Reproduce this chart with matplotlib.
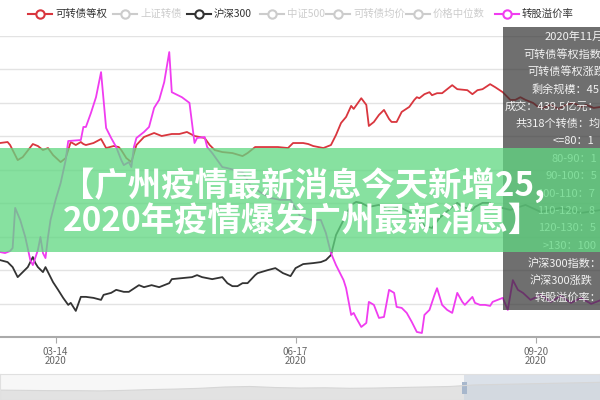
import matplotlib
matplotlib.use("Agg")
import matplotlib.pyplot as plt
import matplotlib.dates as mdates
from matplotlib.patches import Rectangle
from matplotlib.lines import Line2D
import pandas as pd

plt.rcParams['font.family'] = ['Noto Sans CJK SC', 'DejaVu Sans']

start = pd.Timestamp('2020-02-21')

# 可转债等权 (red), days since start / value in grid units
cb_days = [0, 3, 4, 7, 9, 13, 15, 17, 19, 21, 24, 26, 28, 30, 32, 33, 34, 37, 40, 42,
           45, 47, 48, 50, 52, 54, 57, 61, 64, 68, 71, 74, 77, 81, 83, 85, 88, 92, 96, 98,
           101, 106, 110, 114, 116, 120, 122, 124, 128, 131, 133, 135, 137, 139, 140, 143, 145, 146, 148, 150,
           152, 154, 155, 157, 159, 162, 164, 165, 166, 168, 170, 171, 173, 175, 177, 179, 181, 185, 187, 189,
           191, 194, 196, 199, 202, 204, 206, 208, 211, 213, 215, 218, 221, 224, 227, 230, 232, 235, 238]
cb_vals = [5.80, 5.83, 5.74, 5.29, 5.38, 5.77, 5.71, 5.59, 5.65, 5.44, 5.23, 5.35, 5.83, 5.74, 5.83, 5.77, 5.74, 5.80, 5.92, 5.65,
           5.71, 5.68, 5.59, 5.35, 5.23, 5.74, 5.98, 6.10, 6.01, 6.07, 6.07, 6.13, 6.01, 5.95, 5.74, 5.59, 5.53, 5.50, 5.41, 5.50,
           5.68, 5.68, 5.68, 5.65, 5.80, 5.80, 5.77, 5.71, 5.65, 5.74, 6.04, 6.40, 6.58, 6.91, 6.82, 7.14, 6.94, 6.31, 6.43, 6.64,
           6.79, 6.52, 6.43, 6.43, 6.73, 6.88, 7.09, 7.17, 7.14, 7.26, 7.32, 7.23, 7.29, 7.29, 7.41, 7.53, 7.41, 7.38, 7.26, 7.38,
           7.41, 7.56, 7.47, 7.32, 7.09, 7.09, 7.17, 7.09, 7.00, 6.88, 6.85, 6.94, 6.82, 6.94, 7.00, 6.88, 6.94, 6.85, 6.88]

# 沪深300 (black)
hs_days = [0, 3, 5, 7, 9, 11, 13, 14, 15, 17, 18, 21, 23, 25, 27, 28, 29, 30, 32, 34,
           37, 40, 41, 44, 46, 49, 51, 55, 57, 60, 63, 67, 68, 72, 76, 78, 80, 84, 88, 90,
           92, 94, 96, 98, 101, 102, 106, 109, 112, 115, 117, 120, 124, 127, 129, 131, 133, 136, 139, 141,
           143, 146, 150, 154, 158, 162, 166, 168, 171, 174, 179, 181, 183, 187, 188, 191, 194, 195, 197, 202,
           208, 214, 222, 230, 238]
hs_vals = [2.30, 2.24, 2.09, 1.79, 1.94, 2.09, 2.39, 2.21, 2.09, 1.94, 2.09, 1.64, 1.41, 1.17, 0.96, 1.02, 0.90, 0.78, 1.20, 1.20,
           1.17, 1.11, 1.26, 1.32, 1.41, 1.35, 1.35, 1.55, 1.49, 1.55, 1.49, 1.61, 1.73, 1.76, 1.79, 1.85, 1.79, 1.73, 1.79, 1.61,
           1.52, 1.52, 1.61, 1.61, 1.85, 1.91, 2.00, 2.06, 1.91, 1.82, 2.06, 2.18, 2.21, 2.24, 2.30, 2.45, 3.05, 3.50, 3.95, 4.04,
           4.01, 3.89, 3.95, 3.80, 3.89, 3.74, 3.56, 3.32, 3.26, 3.56, 3.89, 4.01, 3.89, 3.80, 3.89, 4.01, 4.01, 3.86, 3.89, 3.80,
           3.95, 3.74, 3.86, 3.71, 3.80]

# 转股溢价率 (magenta)
pr_days = [0, 2, 4, 5, 6, 8, 10, 12, 13, 15, 16, 17, 18, 19, 20, 22, 24, 26, 27, 32,
           33, 34, 36, 38, 40, 42, 44, 46, 48, 49, 51, 52, 53, 54, 57, 59, 61, 63, 65, 67,
           68, 72, 75, 77, 78, 81, 82, 84, 86, 88, 90, 93, 96, 99, 103, 107, 111, 115, 119, 123,
           127, 129, 131, 133, 136, 137, 139, 140, 141, 143, 145, 146, 148, 150, 152, 154, 156, 157, 159, 161,
           163, 165, 167, 168, 170, 172, 173, 175, 177, 179, 181, 183, 184, 187, 188, 190, 192, 194, 195, 197,
           199, 201, 203, 205, 207, 210, 214, 218, 222, 226, 230, 234, 238]
pr_vals = [2.54, 2.51, 2.57, 2.66, 3.86, 3.50, 2.99, 2.30, 2.15, 2.60, 2.99, 2.51, 2.36, 2.99, 3.50, 4.10, 4.60, 5.29, 5.86, 5.89,
           6.28, 6.28, 6.70, 7.17, 7.92, 6.25, 5.95, 5.68, 5.29, 5.14, 5.23, 5.08, 5.68, 5.95, 6.13, 6.28, 6.85, 7.09, 7.62, 8.52,
           7.32, 7.17, 7.00, 5.80, 5.95, 5.98, 5.68, 5.50, 5.29, 5.08, 5.05, 4.99, 4.93, 4.54, 4.33, 4.16, 4.10, 4.10, 3.59, 3.50,
           3.50, 3.11, 2.51, 2.15, 1.70, 1.46, 0.66, 0.72, 0.57, 0.30, 0.42, 1.05, 0.96, 0.57, 0.60, 1.41, 1.32, 0.90, 0.87, 0.72,
           0.45, 0.15, 0.12, 0.66, 0.81, 1.26, 1.46, 0.96, 0.81, 0.72, 1.32, 1.05, 0.96, 1.20, 1.02, 0.96, 0.96, 0.93, 1.05, 1.11,
           1.17, 0.81, 1.70, 1.41, 1.32, 1.11, 1.26, 1.05, 1.23, 1.02, 1.17, 0.99, 1.11]

tick_dates = ['2020-03-14', '2020-06-17', '2020-09-20']

legend_names = ['可转债等权', '上证转债', '沪深300', '中证500', '可转债均价', '价格中位数', '转股溢价率']
legend_colors = ['#d9363e', '#cccccc', '#333333', '#cccccc', '#cccccc', '#cccccc', '#f03cf0']
legend_on = [True, False, True, False, False, False, True]

tooltip_lines = ['2020年11月', '可转债等权指数', '可转债等权涨跌', '剩余规模：45', '成交：439.5亿元：',
                 '共318个转债：均', '<=80：1', '80-90：1', '90-100：5', '100-110：7', '110-120：8',
                 '120-130：5', '>130：100', '沪深300指数：', '沪深300涨跌', '转股溢价率：']

banner_text = '【广州疫情最新消息今天新增25,\n2020年疫情爆发广州最新消息】'

# slider overview curve
overview_vals = [0.38, 0.37, 0.36, 0.36, 0.35, 0.37, 0.40, 0.42, 0.45, 0.50, 0.52, 0.48, 0.46,
                 0.47, 0.45, 0.46, 0.48, 0.50, 0.52, 0.58, 0.60, 0.62, 0.64, 0.66, 0.68]

W, H = 600, 400
fig = plt.figure(figsize=(6, 4), dpi=100)

ax = fig.add_axes([0, 63 / H, 1, 301 / H])
to_dates = lambda d: [start + pd.Timedelta(days=x) for x in d]
ax.plot(to_dates(cb_days), cb_vals, color='#d9363e', lw=1.3, zorder=3)
ax.plot(to_dates(hs_days), hs_vals, color='#333333', lw=1.3, zorder=3)
ax.plot(to_dates(pr_days), pr_vals, color='#f03cf0', lw=1.3, zorder=3)

ax.set_xlim(start, start + pd.Timedelta(days=237.5))
ax.set_ylim(0, 9)
ax.set_yticks(range(1, 10))
ax.yaxis.set_tick_params(length=0, labelleft=False)
ax.grid(axis='y', color='#e3e3e3', lw=1)
ax.set_axisbelow(True)
for s in ['top', 'right', 'left']:
    ax.spines[s].set_visible(False)
ax.spines['bottom'].set_color('#aaaaaa')
ax.spines['bottom'].set_linewidth(1.5)
ax.set_xticks(pd.to_datetime(tick_dates))
ax.xaxis.set_major_formatter(mdates.DateFormatter('%m-%d\n%Y'))
ax.tick_params(axis='x', colors='#aaaaaa', length=4, labelcolor='#666666', labelsize=7, pad=3)
for lab in ax.get_xticklabels():
    lab.set_linespacing(0.95)

# legend
marker_x = [40, 125, 199, 272, 338, 418, 507]
for name, col, on, mx in zip(legend_names, legend_colors, legend_on, marker_x):
    y = (H - 14) / H
    fig.add_artist(Line2D([(mx - 12) / W, (mx + 12) / W], [y, y], color=col, lw=1.5,
                          transform=fig.transFigure))
    fig.add_artist(Line2D([mx / W], [y], marker='o', ms=6, mfc='white', mec=col, mew=1.5,
                          transform=fig.transFigure))
    fig.text((mx + 15) / W, y, name, fontsize=7.5, color='#333333' if on else '#cccccc',
             va='center', ha='left')

# tooltip (cut off at the right edge, as in the screenshot)
fig.add_artist(Rectangle((503 / W, (H - 310) / H), 110 / W, 283 / H, transform=fig.transFigure,
                         facecolor='#323232', alpha=0.7, edgecolor='none', zorder=5))
tip_x = [545, 523, 527, 532, 505, 515, 553, 552, 545, 537, 537, 538, 543, 528, 530, 535]
for i, (txt, tx) in enumerate(zip(tooltip_lines, tip_x)):
    fig.text(tx / W, (H - 37 - i * 17.4) / H, txt, fontsize=8, color='#f2f2f2',
             va='center', ha='left', zorder=6)

# banner
fig.add_artist(Rectangle((0, (H - 252) / H), 1, 104 / H, transform=fig.transFigure,
                         facecolor='#61d882', alpha=0.76, edgecolor='none', zorder=7))
fig.text(0.505, (H - 203) / H, banner_text, fontsize=24, fontweight='bold', color='white',
         ha='center', va='center', linespacing=1.08, zorder=8)

# data zoom slider
ax2 = fig.add_axes([0, 0, 1, 26 / H])
n = len(overview_vals)
ox = [i / (n - 1) for i in range(n)]
ax2.fill_between(ox, 0, overview_vals, color='#e2e2e2', lw=0)
ax2.plot(ox, overview_vals, color='#d6d6d6', lw=0.8)
ax2.axvspan(464 / W, 1, color='#c9d3e0', alpha=0.6, lw=0)
ax2.add_patch(Rectangle((462 / W, 0.25), 5 / W, 0.45, facecolor='#a7b7cc', edgecolor='none'))
ax2.set_xlim(0, 1)
ax2.set_ylim(0, 1)
ax2.set_facecolor('#f7f7f7')
ax2.set_xticks([])
ax2.set_yticks([])
for s in ax2.spines.values():
    s.set_color('#e0e0e0')

fig.savefig('out.png', dpi=100)
